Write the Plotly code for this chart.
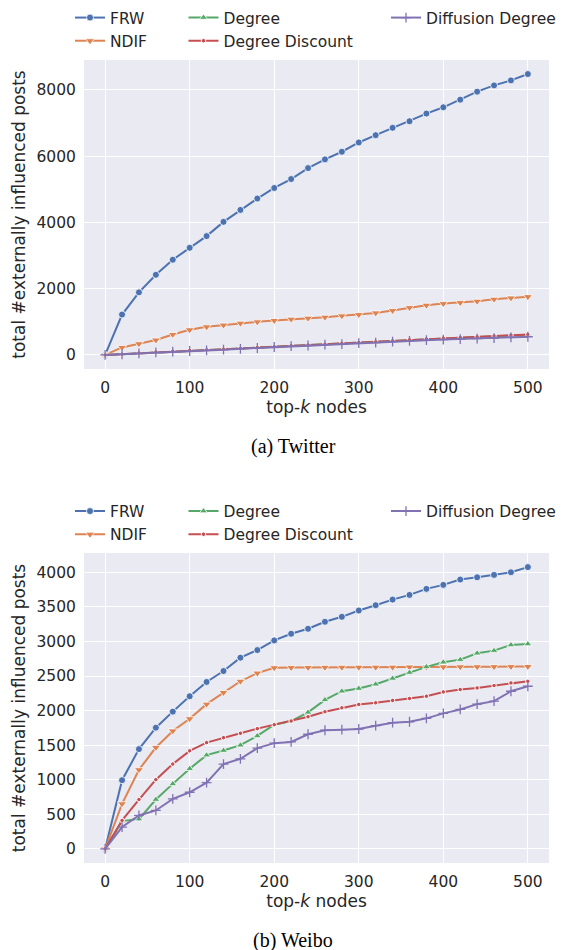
import plotly.graph_objects as go
from plotly.subplots import make_subplots

# ---------- data ------------------------------------------------------------
K_NODES = [0, 20, 40, 60, 80, 100, 120, 140, 160, 180, 200, 220, 240,
           260, 280, 300, 320, 340, 360, 380, 400, 420, 440, 460, 480, 500]

METHODS = ["FRW", "NDIF", "Degree", "Degree Discount", "Diffusion Degree"]

TWITTER_FRW = [0, 1220, 1890, 2420, 2875, 3236, 3588, 4018, 4379, 4722, 5041, 5311, 5642,
               5904, 6135, 6415, 6635, 6857, 7056, 7287, 7477, 7708, 7949, 8138, 8289, 8481]
TWITTER_NDIF = [0, 228, 339, 450, 619, 760, 850, 901, 961, 1000, 1040, 1081, 1111,
                1141, 1180, 1219, 1270, 1339, 1429, 1502, 1550, 1580, 1622, 1682, 1721, 1760]
TWITTER_DEGREE = [0, 22, 55, 85, 110, 130, 150, 172, 198, 222, 250, 275, 298,
                  320, 345, 370, 395, 420, 450, 475, 500, 520, 540, 565, 590, 605]
TWITTER_DEG_DISCOUNT = [0, 25, 60, 90, 115, 135, 155, 175, 200, 225, 250, 280, 300,
                        325, 350, 375, 400, 430, 460, 485, 510, 530, 550, 575, 600, 620]
TWITTER_DIFF_DEGREE = [0, 20, 50, 80, 100, 120, 140, 160, 185, 210, 240, 265, 285,
                       310, 330, 355, 375, 400, 425, 445, 465, 480, 495, 510, 530, 550]

WEIBO_FRW = [0, 994, 1443, 1753, 1985, 2207, 2414, 2572, 2765, 2875, 3015, 3111, 3183,
             3284, 3356, 3447, 3524, 3605, 3673, 3760, 3818, 3895, 3928, 3962, 4000, 4075]
WEIBO_NDIF = [0, 652, 1145, 1466, 1706, 1882, 2093, 2261, 2424, 2542, 2620, 2622, 2624,
              2625, 2626, 2627, 2628, 2628, 2630, 2630, 2632, 2633, 2634, 2635, 2636, 2638]
WEIBO_DEGREE = [0, 402, 431, 714, 940, 1160, 1356, 1422, 1500, 1634, 1796, 1849, 1974,
                2155, 2280, 2319, 2381, 2465, 2550, 2632, 2699, 2737, 2829, 2867, 2949, 2963]
WEIBO_DEG_DISCOUNT = [0, 412, 714, 1001, 1227, 1418, 1537, 1609, 1672, 1739, 1796, 1849, 1911,
                      1983, 2040, 2089, 2112, 2147, 2175, 2208, 2270, 2305, 2328, 2362, 2400, 2424]
WEIBO_DIFF_DEGREE = [0, 316, 484, 556, 724, 819, 958, 1227, 1303, 1457, 1529, 1547, 1658,
                     1716, 1724, 1734, 1782, 1825, 1839, 1888, 1960, 2017, 2093, 2137, 2280, 2352]

X_TICKS = [0, 100, 200, 300, 400, 500]
TWITTER_Y_TICKS = [0, 2000, 4000, 6000, 8000]
WEIBO_Y_TICKS = [0, 500, 1000, 1500, 2000, 2500, 3000, 3500, 4000]

CAPTIONS = ["(a) Twitter", "(b) Weibo"]

# ---------- style ----------------------------------------------------------
COLORS = ["#4C72B0", "#DD8452", "#55A868", "#C44E52", "#8172B3"]
MARKERS = [
    dict(symbol="circle", size=7, line=dict(color="white", width=0.8)),
    dict(symbol="triangle-down", size=8, line=dict(color="white", width=0.8)),
    dict(symbol="triangle-up", size=7, line=dict(color="white", width=0.8)),
    dict(symbol="circle", size=4.5, line=dict(color="white", width=1)),
    dict(symbol="cross-thin", size=7, line=dict(color="#8172B3", width=1.3)),
]
TEXT = "#262626"
FONT = "DejaVu Sans"

# the page body adds an 8px margin, so the figure is drawn 8px smaller
PAGE_W, PAGE_H, OFF = 565, 950, 8
W, H = PAGE_W - OFF, PAGE_H - OFF


def px_x(v):
    return (v - OFF) / W


def px_y(v):
    return 1 - (v - OFF) / H


panels = [
    [TWITTER_FRW, TWITTER_NDIF, TWITTER_DEGREE, TWITTER_DEG_DISCOUNT, TWITTER_DIFF_DEGREE],
    [WEIBO_FRW, WEIBO_NDIF, WEIBO_DEGREE, WEIBO_DEG_DISCOUNT, WEIBO_DIFF_DEGREE],
]
y_ticks = [TWITTER_Y_TICKS, WEIBO_Y_TICKS]
y_ranges = [[-424, 8905], [-204, 4279]]

# legend column of each method (matplotlib ncol=3 fills column by column)
col_of_method = [0, 0, 1, 1, 2]

fig = make_subplots(rows=2, cols=1)

for p, series in enumerate(panels):
    for m, values in enumerate(series):
        idx = p * 3 + col_of_method[m]
        fig.add_trace(
            go.Scatter(
                x=K_NODES,
                y=values,
                name=METHODS[m],
                mode="lines+markers",
                line=dict(color=COLORS[m], width=2),
                marker=dict(color=COLORS[m], **MARKERS[m]),
                legend="legend" if idx == 0 else f"legend{idx + 1}",
            ),
            row=p + 1,
            col=1,
        )

# plot areas in page pixels: x 84..549, top panel y 60..369, bottom panel y 553..863
x_dom = [px_x(84), px_x(549)]
y_doms = [[px_y(369), px_y(60)], [px_y(863), px_y(553)]]

axis_common = dict(
    showgrid=True,
    gridcolor="white",
    gridwidth=1.2,
    zeroline=False,
    showline=False,
    ticks="outside",
    ticklen=4,
    tickcolor="rgba(0,0,0,0)",
    tickfont=dict(family=FONT, size=15.5, color=TEXT),
)

for p in range(2):
    fig.update_xaxes(
        domain=x_dom,
        range=[-25, 525],
        tickvals=X_TICKS,
        title=dict(text="top-<i>k</i> nodes", font=dict(family=FONT, size=17, color=TEXT), standoff=4),
        **axis_common,
        row=p + 1, col=1,
    )
    fig.update_yaxes(
        domain=y_doms[p],
        range=y_ranges[p],
        tickvals=y_ticks[p],
        title=dict(text="total #externally influenced posts",
                   font=dict(family=FONT, size=17, color=TEXT), standoff=6),
        **axis_common,
        row=p + 1, col=1,
    )

# legends: three columns per panel
legend_cols_x = [px_x(70), px_x(183.5), px_x(386)]
legend_tops = [px_y(1), px_y(494.5)]
legend_font = dict(family=FONT, size=15.5, color=TEXT)
for p in range(2):
    for c in range(3):
        idx = p * 3 + c
        key = "legend" if idx == 0 else f"legend{idx + 1}"
        fig.update_layout({
            key: dict(
                x=legend_cols_x[c], y=legend_tops[p],
                xanchor="left", yanchor="top",
                bgcolor="rgba(0,0,0,0)",
                font=legend_font,
                orientation="v",
                borderwidth=0,
            )
        })

# captions under each panel
for p, caption in enumerate(CAPTIONS):
    fig.add_annotation(
        text=caption,
        x=px_x(293), y=px_y([446, 940][p]),
        xref="paper", yref="paper",
        xanchor="center", yanchor="middle",
        showarrow=False,
        font=dict(family="Liberation Serif", size=20, color="black"),
    )

fig.update_layout(
    width=W,
    height=H,
    margin=dict(l=0, r=0, t=0, b=0, autoexpand=False),
    plot_bgcolor="#EAEAF2",
    paper_bgcolor="white",
    font=dict(family=FONT, color=TEXT),
    showlegend=True,
)

fig.write_html("out.html")
